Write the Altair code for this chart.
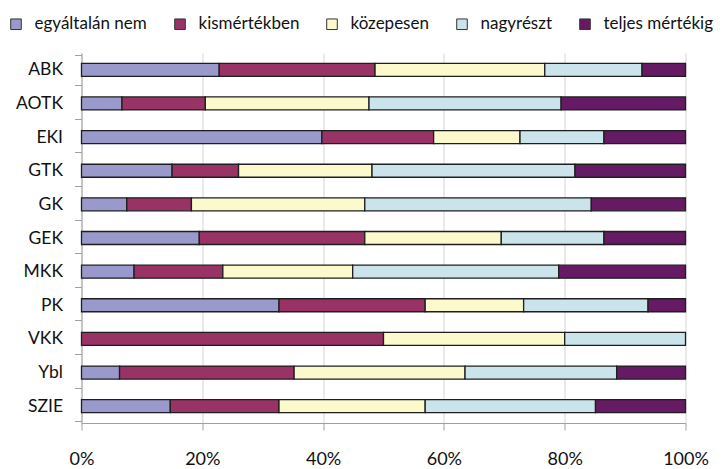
import altair as alt
import pandas as pd

categories = ["ABK", "AOTK", "EKI", "GTK", "GK", "GEK", "MKK", "PK", "VKK", "Ybl", "SZIE"]
answers = ["egyáltalán nem", "kismértékben", "közepesen", "nagyrészt", "teljes mértékig"]
colors = ["#9999CC", "#993366", "#FCF9CD", "#CBE4EC", "#661A63"]

egyaltalan_nem = [22.8, 6.7, 39.8, 15.0, 7.5, 19.5, 8.7, 32.7, 0.0, 6.3, 14.7]
kismertekben = [25.8, 13.8, 18.5, 11.0, 10.7, 27.4, 14.7, 24.2, 50.0, 28.9, 18.0]
kozepesen = [28.1, 27.1, 14.3, 22.1, 28.7, 22.6, 21.5, 16.3, 30.0, 28.3, 24.2]
nagyreszt = [16.1, 31.8, 13.9, 33.6, 37.5, 17.0, 34.1, 20.6, 20.0, 25.1, 28.2]
teljes = [7.2, 20.6, 13.5, 18.3, 15.6, 13.5, 21.0, 6.2, 0.0, 11.4, 14.9]

series = [egyaltalan_nem, kismertekben, kozepesen, nagyreszt, teljes]
rows = []
for k, (ans, vals) in enumerate(zip(answers, series)):
    for cat, v in zip(categories, vals):
        if v > 0:
            rows.append({"kar": cat, "valasz": ans, "ertek": v, "k": k})
df = pd.DataFrame(rows)

chart = alt.Chart(df).mark_bar(
    size=13, stroke="#1e1e1e", strokeWidth=1.3
).encode(
    x=alt.X("ertek:Q", stack="normalize",
            scale=alt.Scale(domain=[0, 1], nice=False),
            axis=alt.Axis(title=None, format="%", values=[0, 0.2, 0.4, 0.6, 0.8, 1.0],
                          grid=True, gridColor="#d4d4d4", gridWidth=1,
                          domainColor="#a0a0a0", tickColor="#a0a0a0", tickSize=7,
                          labelFontSize=18, labelPadding=20, labelColor="#111111",
                          labelFlush=False)),
    y=alt.Y("kar:N", sort=categories,
            axis=alt.Axis(title=None, tickBand="extent", tickSize=7,
                          domainColor="#a0a0a0", tickColor="#a0a0a0",
                          labelFontSize=17.5, labelPadding=12, labelColor="#111111",
                          grid=False)),
    color=alt.Color("valasz:N", sort=answers,
                    scale=alt.Scale(domain=answers, range=colors),
                    legend=alt.Legend(title=None, orient="none", direction="horizontal",
                                      legendX=-74, legendY=-37.5,
                                      symbolType="square", symbolSize=112,
                                      symbolStrokeColor="#333333", symbolStrokeWidth=1,
                                      symbolOpacity=1,
                                      labelFontSize=17, labelOffset=10, labelColor="#111111",
                                      columnPadding=24, padding=0)),
    order=alt.Order("k:Q", sort="ascending"),
).properties(
    width=604, height=370,
    autosize=alt.AutoSizeParams(type="none"),
    padding={"left": 73.5, "top": 45, "right": 29, "bottom": 46},
).configure(
    font="Lato"
).configure_view(
    stroke=None
)

chart.save("out.html", embed_options={"renderer": "svg", "actions": False})
